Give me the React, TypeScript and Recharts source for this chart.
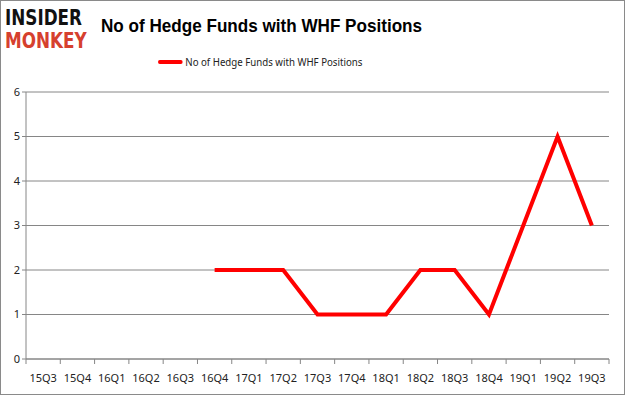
import React from 'react';
import { LineChart, Line, XAxis, YAxis, CartesianGrid } from 'recharts';

const quarters = [
  '15Q3', '15Q4', '16Q1', '16Q2', '16Q3', '16Q4', '17Q1', '17Q2', '17Q3',
  '17Q4', '18Q1', '18Q2', '18Q3', '18Q4', '19Q1', '19Q2', '19Q3',
];
const funds: (number | null)[] = [
  null, null, null, null, null, 2, 2, 2, 1, 1, 1, 2, 2, 1, 3, 5, 3,
];
const yTicks = [0, 1, 2, 3, 4, 5, 6];
const seriesName = 'No of Hedge Funds with WHF Positions';

const W = 625;
const H = 395;
const PLOT_LEFT = 26;
const PLOT_RIGHT = 609;
const STEP = (PLOT_RIGHT - PLOT_LEFT) / quarters.length;

const data = quarters.map((q, i) => ({ q, v: funds[i] }));

// x tick: label centred in the band, tick marks on the band edges
const XTick = (props: any) => {
  const { x, y, payload, index } = props;
  const left = x - STEP / 2;
  return (
    <g>
      <line x1={left} y1={y - 8} x2={left} y2={y - 3} stroke="#868686" />
      {index === quarters.length - 1 && (
        <line x1={x + STEP / 2} y1={y - 8} x2={x + STEP / 2} y2={y - 3} stroke="#868686" />
      )}
      <text x={x} y={y + 15} textAnchor="middle" fontSize={11} fill="#222" fontFamily="Noto Sans">
        {payload.value}
      </text>
    </g>
  );
};

export default function App() {
  return (
    <div style={{ position: 'fixed', left: 0, top: 0, width: W, height: H, background: '#fff', boxSizing: 'border-box', border: '1px solid #8a8a8a' }}>
      <div style={{ position: 'absolute', left: 4, top: 6, fontFamily: 'DejaVu Sans', fontWeight: 900, fontSize: 21, lineHeight: '23px', transform: 'scaleX(0.8)', transformOrigin: 'left top' }}>
        <div style={{ color: '#111' }}>INSIDER</div>
        <div style={{ color: '#d6402e' }}>MONKEY</div>
      </div>
      <div style={{ position: 'absolute', left: 100, top: 14, whiteSpace: 'nowrap', fontFamily: 'Liberation Sans', fontWeight: 700, fontSize: 19, color: '#000', transform: 'scaleX(0.9)', transformOrigin: 'left top' }}>
        {seriesName}
      </div>
      <div style={{ position: 'absolute', left: 157, top: 53, display: 'flex', alignItems: 'center', fontFamily: 'Noto Sans', fontSize: 11, color: '#222', whiteSpace: 'nowrap', transform: 'scaleX(0.88)', transformOrigin: 'left top' }}>
        <span style={{ display: 'inline-block', width: 28, height: 4, background: '#ff0000', borderRadius: 2, marginRight: 3 }} />
        {seriesName}
      </div>
      <LineChart
        width={W - 2}
        height={H - 2}
        data={data}
        margin={{ top: 91, right: W - 1 - PLOT_RIGHT, bottom: 5, left: 0 }}
        style={{ position: 'absolute', left: 0, top: 0 }}
      >
        <CartesianGrid vertical={false} stroke="#868686" strokeWidth={1} />
        <XAxis
          dataKey="q"
          scale="band"
          axisLine={{ stroke: '#868686' }}
          tickLine={false}
          tick={<XTick />}
          height={30}
          interval={0}
        />
        <YAxis
          domain={[0, 6]}
          ticks={yTicks}
          width={PLOT_LEFT - 1}
          axisLine={{ stroke: '#868686' }}
          tickLine={{ stroke: '#868686' }}
          tickSize={4}
          tick={{ fontSize: 11, fill: '#222', fontFamily: 'Noto Sans' }}
        />
        <Line
          dataKey="v"
          name={seriesName}
          stroke="#ff0000"
          strokeWidth={4}
          dot={false}
          isAnimationActive={false}
          strokeLinejoin="miter"
        />
      </LineChart>
    </div>
  );
}
